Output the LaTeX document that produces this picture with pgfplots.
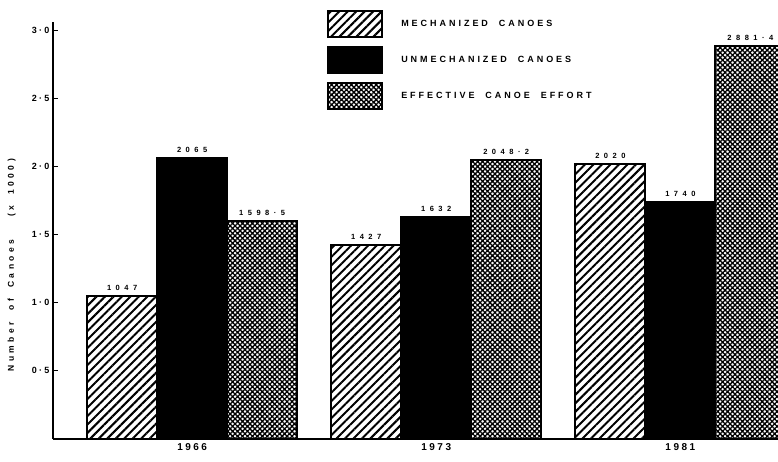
\documentclass[border=0pt]{standalone}
\usepackage{pgfplots}
\pgfplotsset{compat=1.18}
\usetikzlibrary{patterns.meta}
\usepackage{fontspec}
\setmainfont{Liberation Sans}
\newfontfamily\legfont[LetterSpace=33]{Liberation Sans}
\newfontfamily\valfont[LetterSpace=60]{Liberation Sans}
\newfontfamily\tickfont[LetterSpace=25]{Liberation Sans}
\newfontfamily\labfont[LetterSpace=40]{Liberation Sans}
\begin{document}
\begin{tikzpicture}
\begin{axis}[
  scale only axis,
  width=725pt, height=417pt,
  xmin=-0.57, xmax=2.40,
  ymin=0, ymax=3.06,
  ybar=0pt, bar width=70pt,
  axis x line*=bottom, axis y line*=left,
  axis line style={line width=1.6pt, -},
  xtick={0,1,2}, xticklabels={1966,1973,1981},
  xtick style={draw=none},
  xticklabel style={font=\tickfont\fontsize{10}{11}\selectfont\bfseries, yshift=-1pt},
  ytick={0.5,1.0,1.5,2.0,2.5,3.0},
  yticklabels={0·5,1·0,1·5,2·0,2·5,3·0},
  yticklabel style={font=\tickfont\fontsize{9}{10}\selectfont\bfseries},
  tick align=inside, major tick length=5pt,
  ytick style={line width=1.2pt, black},
  ylabel={Number \ of \ Canoes \ \ \ (x \ 1000)},
  ylabel style={font=\labfont\fontsize{8.5}{9}\selectfont\bfseries, at={(axis description cs:-0.057,0.417)}, anchor=center},
  nodes near coords,
  point meta=explicit symbolic,
  every node near coord/.append style={font=\valfont\fontsize{7.5}{8}\selectfont\bfseries, yshift=1pt},
  legend style={draw=none, fill=none, at={(0.378,1.029)}, anchor=north west,
    font=\legfont\fontsize{9}{10}\selectfont\bfseries, row sep=8pt, inner sep=0pt},
  legend cell align=left,
  legend image code/.code={\draw[#1, line width=2pt] (0pt,-13pt) rectangle (54pt,13pt); \path (70pt,0pt);},
  clip=true,
]
\addplot[draw=black, line width=2pt, pattern={Lines[angle=45,distance=6pt,line width=2pt]}]
  coordinates {(0,1.047) [1047] (1,1.427) [1427] (2,2.020) [2020]};
\addlegendentry{MECHANIZED \ CANOES}
\addplot[draw=black, line width=2pt, fill=black]
  coordinates {(0,2.065) [2065] (1,1.632) [1632] (2,1.740) [1740]};
\addlegendentry{UNMECHANIZED \ CANOES}
\addplot[draw=black, line width=2pt, pattern={Hatch[angle=45,distance=3.5pt,line width=1.3pt]}]
  coordinates {(0,1.5985) [1598·5] (1,2.0482) [2048·2] (2,2.8814) [2881·4]};
\addlegendentry{EFFECTIVE \ CANOE \ EFFORT}
\end{axis}
\pgfresetboundingbox
\path (-53pt,-22pt) rectangle (725pt,439pt);
\end{tikzpicture}
\end{document}
